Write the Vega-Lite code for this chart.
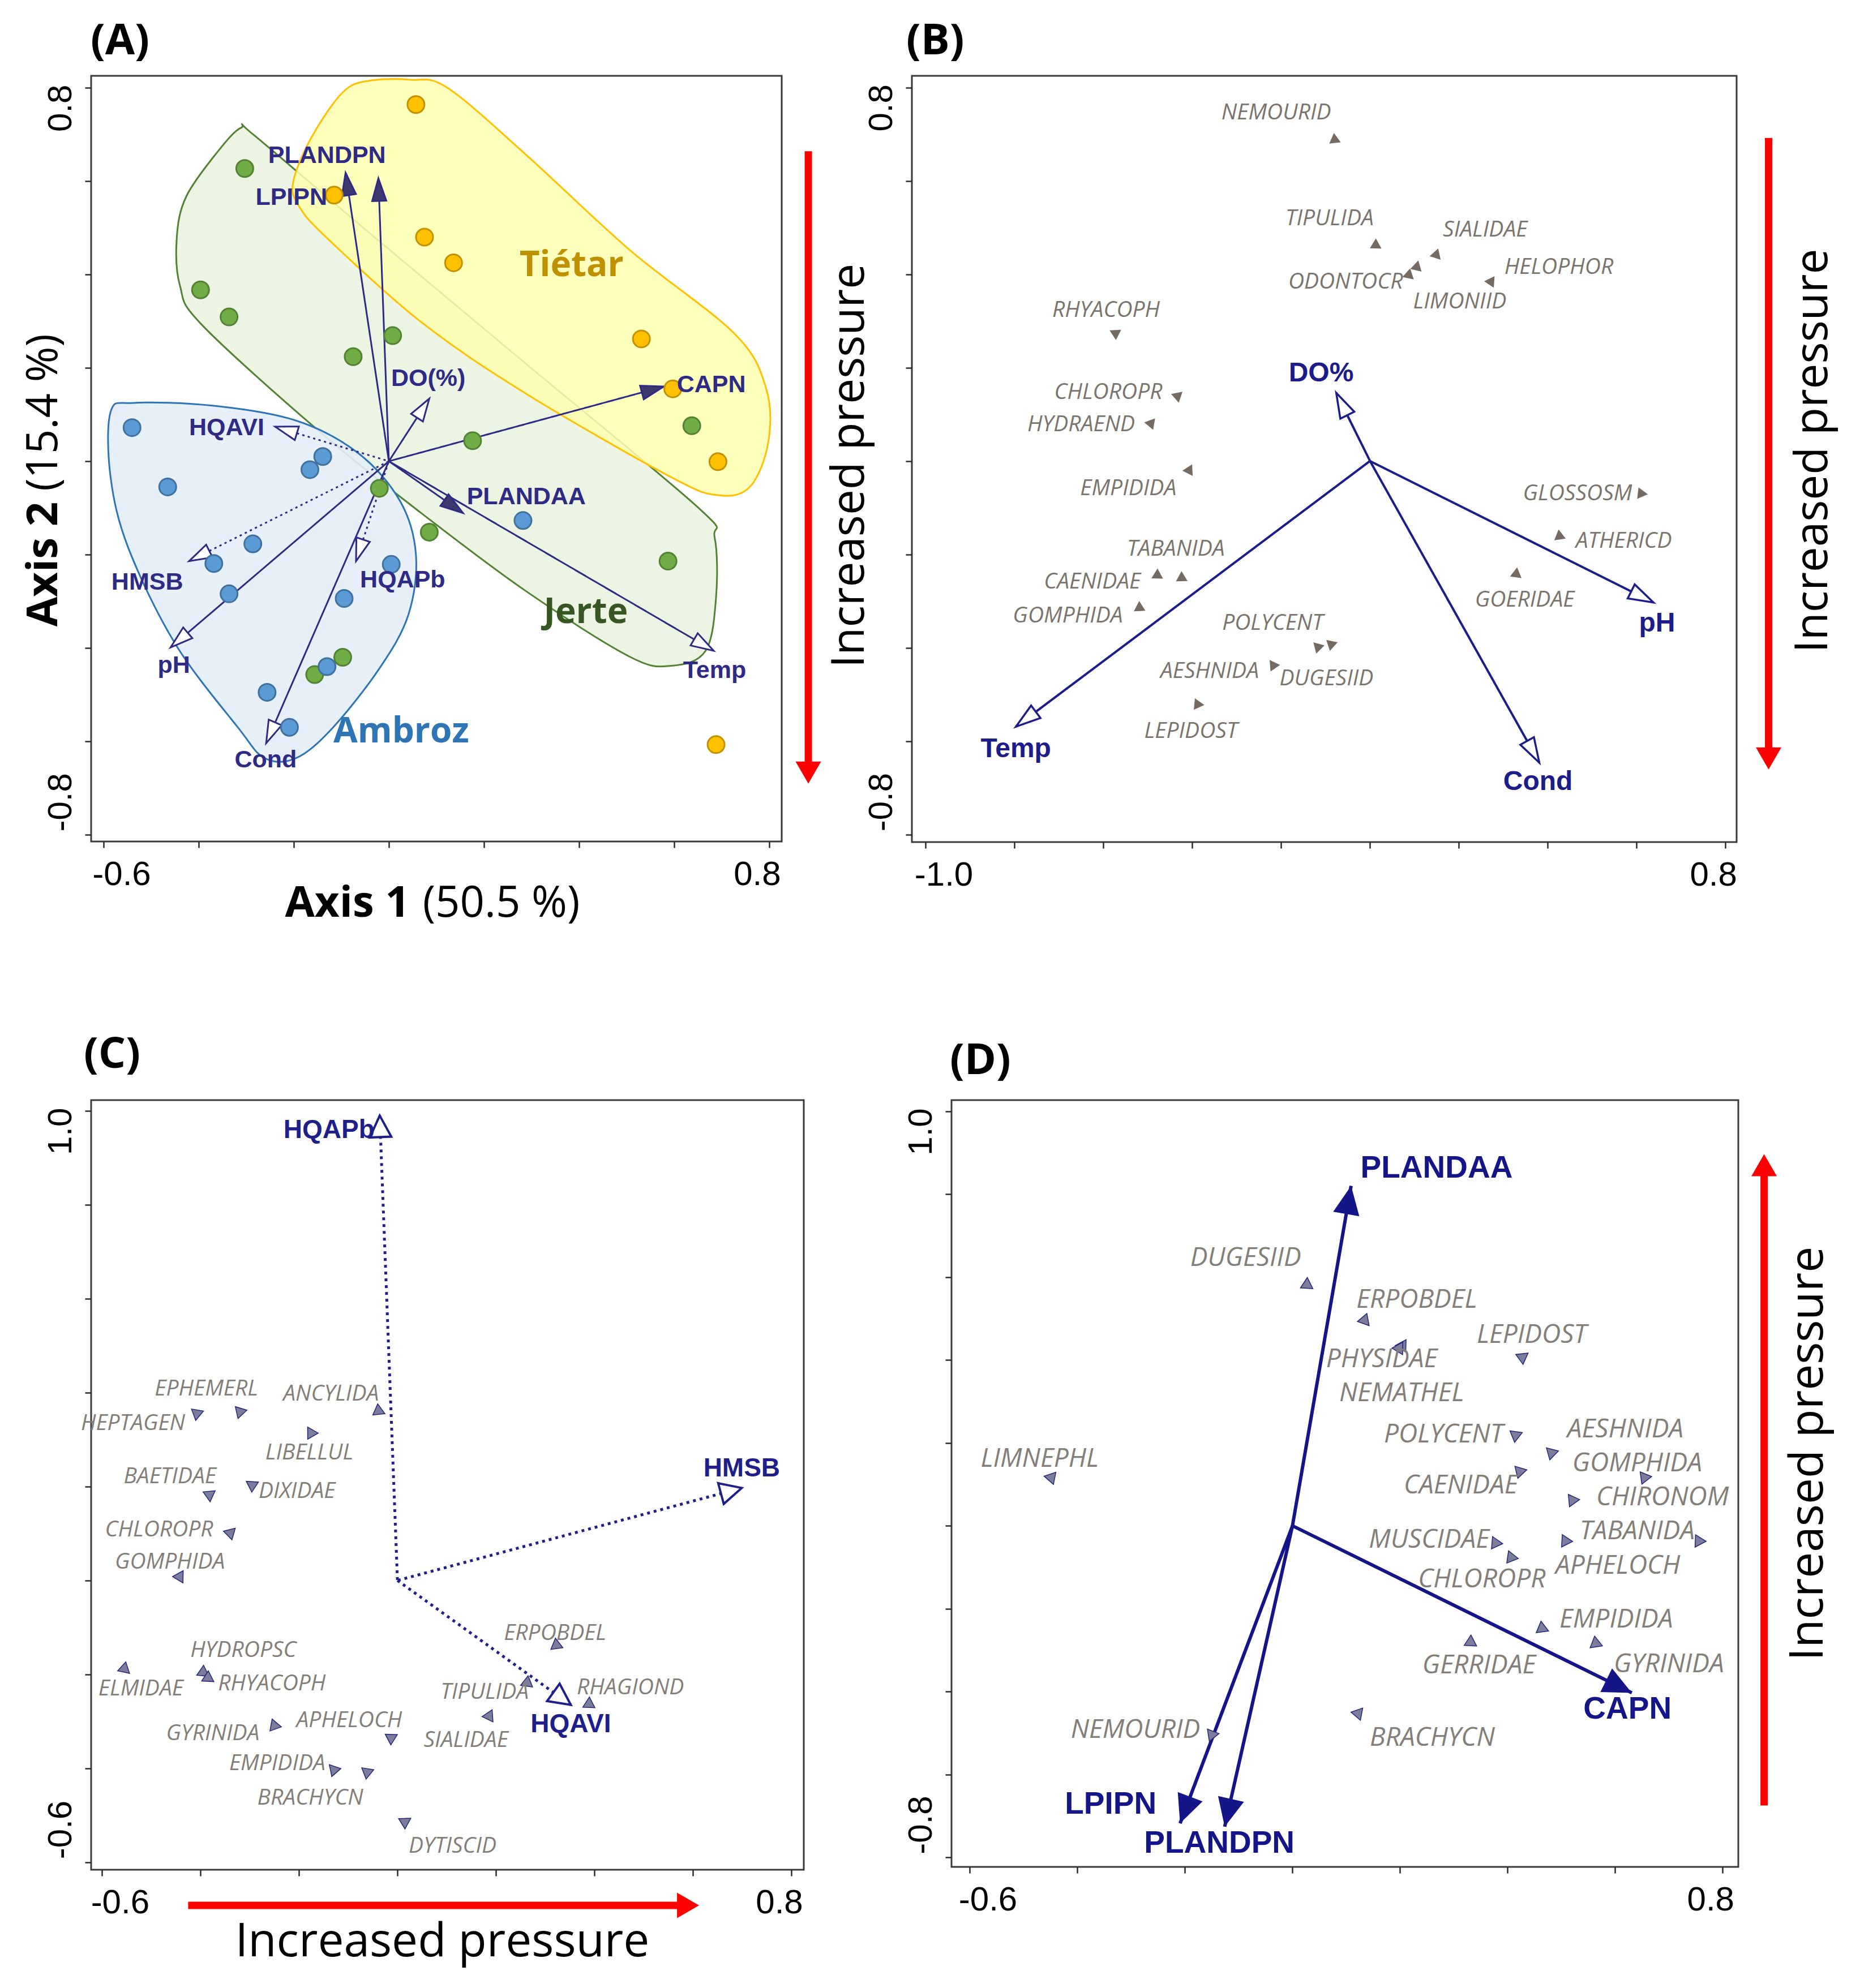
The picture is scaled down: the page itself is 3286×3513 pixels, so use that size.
{
  "$schema": "https://vega.github.io/schema/vega-lite/v6.json",
  "background": "white",
  "padding": {"left": 38, "top": 33, "right": 10, "bottom": 10},
  "config": {
    "view": {"stroke": "#3a3a3a", "strokeWidth": 3},
    "axis": {"grid": false, "domain": false, "ticks": true, "tickColor": "#2a2a2a", "tickSize": 11, "tickWidth": 2.5, "labelFont": "Liberation Sans", "labelFontSize": 60, "labelColor": "#000000", "labelOverlap": false},
    "axisX": {"labelPadding": 18, "labelFlush": 40, "labelFlushOffset": 20},
    "axisY": {"labelAngle": 270, "labelPadding": 25, "labelBaseline": "alphabetic", "labelOffset": -6},
    "title": {"anchor": "start", "frame": "group", "baseline": "alphabetic", "font": "Open Sans", "fontSize": 76, "fontWeight": "bold", "color": "#000000"}
  },
  "datasets": {
    "a_pts": [
      {"site": "Tiétar", "x": 0.057, "y": 0.764}, {"site": "Tiétar", "x": -0.115, "y": 0.570}, {"site": "Tiétar", "x": 0.075, "y": 0.480}, {"site": "Tiétar", "x": 0.136, "y": 0.425},
      {"site": "Tiétar", "x": 0.531, "y": 0.262}, {"site": "Tiétar", "x": 0.597, "y": 0.155}, {"site": "Tiétar", "x": 0.692, "y": -0.001}, {"site": "Tiétar", "x": 0.688, "y": -0.607},
      {"site": "Jerte", "x": -0.303, "y": 0.627}, {"site": "Jerte", "x": -0.396, "y": 0.367}, {"site": "Jerte", "x": -0.336, "y": 0.309}, {"site": "Jerte", "x": 0.008, "y": 0.269},
      {"site": "Jerte", "x": -0.075, "y": 0.224}, {"site": "Jerte", "x": 0.176, "y": 0.044}, {"site": "Jerte", "x": 0.637, "y": 0.076}, {"site": "Jerte", "x": -0.020, "y": -0.058},
      {"site": "Jerte", "x": 0.085, "y": -0.152}, {"site": "Jerte", "x": 0.587, "y": -0.214}, {"site": "Jerte", "x": -0.097, "y": -0.420}, {"site": "Jerte", "x": -0.156, "y": -0.457},
      {"site": "Ambroz", "x": -0.540, "y": 0.072}, {"site": "Ambroz", "x": -0.465, "y": -0.055}, {"site": "Ambroz", "x": -0.139, "y": 0.010}, {"site": "Ambroz", "x": -0.166, "y": -0.018},
      {"site": "Ambroz", "x": -0.286, "y": -0.177}, {"site": "Ambroz", "x": -0.368, "y": -0.219}, {"site": "Ambroz", "x": -0.336, "y": -0.284}, {"site": "Ambroz", "x": 0.005, "y": -0.221},
      {"site": "Ambroz", "x": -0.094, "y": -0.294}, {"site": "Ambroz", "x": 0.282, "y": -0.127}, {"site": "Ambroz", "x": -0.130, "y": -0.440}, {"site": "Ambroz", "x": -0.256, "y": -0.495},
      {"site": "Ambroz", "x": -0.209, "y": -0.570}
    ],
    "a_hull": [
      {"site": "Tiétar", "ord": 1, "x": -0.201, "y": 0.599}, {"site": "Tiétar", "ord": 2, "x": -0.162, "y": 0.695}, {"site": "Tiétar", "ord": 3, "x": -0.097, "y": 0.790},
      {"site": "Tiétar", "ord": 4, "x": -0.042, "y": 0.815}, {"site": "Tiétar", "ord": 5, "x": 0.046, "y": 0.817}, {"site": "Tiétar", "ord": 6, "x": 0.123, "y": 0.800},
      {"site": "Tiétar", "ord": 7, "x": 0.288, "y": 0.657}, {"site": "Tiétar", "ord": 8, "x": 0.507, "y": 0.452}, {"site": "Tiétar", "ord": 9, "x": 0.727, "y": 0.273},
      {"site": "Tiétar", "ord": 10, "x": 0.793, "y": 0.157}, {"site": "Tiétar", "ord": 11, "x": 0.798, "y": 0.042}, {"site": "Tiétar", "ord": 12, "x": 0.760, "y": -0.054},
      {"site": "Tiétar", "ord": 13, "x": 0.694, "y": -0.073}, {"site": "Tiétar", "ord": 14, "x": 0.595, "y": -0.035}, {"site": "Tiétar", "ord": 15, "x": 0.288, "y": 0.145},
      {"site": "Tiétar", "ord": 16, "x": 0.068, "y": 0.298}, {"site": "Tiétar", "ord": 17, "x": -0.130, "y": 0.478}, {"site": "Tiétar", "ord": 18, "x": -0.190, "y": 0.548},
      {"site": "Jerte", "ord": 1, "x": -0.311, "y": 0.714}, {"site": "Jerte", "ord": 2, "x": -0.283, "y": 0.698}, {"site": "Jerte", "ord": 3, "x": -0.042, "y": 0.490},
      {"site": "Jerte", "ord": 4, "x": 0.288, "y": 0.209}, {"site": "Jerte", "ord": 5, "x": 0.650, "y": -0.099}, {"site": "Jerte", "ord": 6, "x": 0.685, "y": -0.163},
      {"site": "Jerte", "ord": 7, "x": 0.688, "y": -0.291}, {"site": "Jerte", "ord": 8, "x": 0.666, "y": -0.406}, {"site": "Jerte", "ord": 9, "x": 0.595, "y": -0.438},
      {"site": "Jerte", "ord": 10, "x": 0.507, "y": -0.419}, {"site": "Jerte", "ord": 11, "x": 0.288, "y": -0.278}, {"site": "Jerte", "ord": 12, "x": 0.068, "y": -0.111},
      {"site": "Jerte", "ord": 13, "x": -0.151, "y": 0.068}, {"site": "Jerte", "ord": 14, "x": -0.393, "y": 0.292}, {"site": "Jerte", "ord": 15, "x": -0.439, "y": 0.375},
      {"site": "Jerte", "ord": 16, "x": -0.446, "y": 0.478}, {"site": "Jerte", "ord": 17, "x": -0.426, "y": 0.567}, {"site": "Jerte", "ord": 18, "x": -0.360, "y": 0.663},
      {"site": "Ambroz", "ord": 1, "x": -0.585, "y": 0.106}, {"site": "Ambroz", "ord": 2, "x": -0.536, "y": 0.125}, {"site": "Ambroz", "ord": 3, "x": -0.371, "y": 0.119},
      {"site": "Ambroz", "ord": 4, "x": -0.195, "y": 0.087}, {"site": "Ambroz", "ord": 5, "x": -0.064, "y": 0.017}, {"site": "Ambroz", "ord": 6, "x": 0.024, "y": -0.086},
      {"site": "Ambroz", "ord": 7, "x": 0.057, "y": -0.201}, {"site": "Ambroz", "ord": 8, "x": 0.041, "y": -0.329}, {"site": "Ambroz", "ord": 9, "x": -0.020, "y": -0.444},
      {"site": "Ambroz", "ord": 10, "x": -0.119, "y": -0.572}, {"site": "Ambroz", "ord": 11, "x": -0.195, "y": -0.636}, {"site": "Ambroz", "ord": 12, "x": -0.261, "y": -0.636},
      {"site": "Ambroz", "ord": 13, "x": -0.316, "y": -0.572}, {"site": "Ambroz", "ord": 14, "x": -0.448, "y": -0.393}, {"site": "Ambroz", "ord": 15, "x": -0.547, "y": -0.188},
      {"site": "Ambroz", "ord": 16, "x": -0.585, "y": -0.035}
    ],
    "a_sites": [
      {"site": "Tiétar", "x": 0.384, "y": 0.420}, {"site": "Jerte", "x": 0.414, "y": -0.323}, {"site": "Ambroz", "x": 0.026, "y": -0.579}
    ],
    "a_arrows": [
      {"var": "PLANDPN", "type": "Land use", "x": -0.022, "y": 0.606, "lx": -0.130, "ly": 0.655},
      {"var": "LPIPN", "type": "Land use", "x": -0.091, "y": 0.618, "lx": -0.205, "ly": 0.565},
      {"var": "CAPN", "type": "Land use", "x": 0.578, "y": 0.160, "lx": 0.678, "ly": 0.164},
      {"var": "PLANDAA", "type": "Land use", "x": 0.156, "y": -0.111, "lx": 0.289, "ly": -0.076},
      {"var": "Temp", "type": "Physico-chemical", "x": 0.683, "y": -0.406, "lx": 0.685, "ly": -0.448},
      {"var": "DO(%)", "type": "Physico-chemical", "x": 0.085, "y": 0.134, "lx": 0.083, "ly": 0.177},
      {"var": "pH", "type": "Physico-chemical", "x": -0.459, "y": -0.399, "lx": -0.452, "ly": -0.438},
      {"var": "Cond", "type": "Physico-chemical", "x": -0.258, "y": -0.604, "lx": -0.259, "ly": -0.640},
      {"var": "HQAVI", "type": "Hydromorphological", "x": -0.239, "y": 0.074, "lx": -0.341, "ly": 0.072},
      {"var": "HMSB", "type": "Hydromorphological", "x": -0.420, "y": -0.214, "lx": -0.508, "ly": -0.259},
      {"var": "HQAPb", "type": "Hydromorphological", "x": -0.069, "y": -0.214, "lx": 0.029, "ly": -0.255}
    ],
    "b_arrows": [
      {"var": "DO%", "type": "Physico-chemical", "x": -0.076, "y": 0.146, "lx": -0.110, "ly": 0.188},
      {"var": "pH", "type": "Physico-chemical", "x": 0.638, "y": -0.303, "lx": 0.646, "ly": -0.348},
      {"var": "Temp", "type": "Physico-chemical", "x": -0.797, "y": -0.569, "lx": -0.797, "ly": -0.617},
      {"var": "Cond", "type": "Physico-chemical", "x": 0.381, "y": -0.646, "lx": 0.378, "ly": -0.688}
    ],
    "b_sp": [
      {"taxon": "NEMOURID", "x": -0.080, "y": 0.692, "lx": -0.211, "ly": 0.746},
      {"taxon": "TIPULIDA", "x": 0.013, "y": 0.466, "lx": -0.091, "ly": 0.519},
      {"taxon": "ODONTOCR", "x": 0.088, "y": 0.402, "lx": -0.055, "ly": 0.384},
      {"taxon": "LIMONIID", "x": 0.106, "y": 0.419, "lx": 0.202, "ly": 0.342},
      {"taxon": "SIALIDAE", "x": 0.150, "y": 0.445, "lx": 0.259, "ly": 0.495},
      {"taxon": "HELOPHOR", "x": 0.274, "y": 0.387, "lx": 0.425, "ly": 0.415},
      {"taxon": "RHYACOPH", "x": -0.576, "y": 0.275, "lx": -0.594, "ly": 0.323},
      {"taxon": "CHLOROPR", "x": -0.437, "y": 0.140, "lx": -0.589, "ly": 0.148},
      {"taxon": "HYDRAEND", "x": -0.497, "y": 0.081, "lx": -0.650, "ly": 0.079},
      {"taxon": "EMPIDIDA", "x": -0.411, "y": -0.020, "lx": -0.544, "ly": -0.058},
      {"taxon": "GLOSSOSM", "x": 0.614, "y": -0.070, "lx": 0.467, "ly": -0.070},
      {"taxon": "ATHERICD", "x": 0.430, "y": -0.162, "lx": 0.571, "ly": -0.171},
      {"taxon": "GOERIDAE", "x": 0.332, "y": -0.244, "lx": 0.348, "ly": -0.297},
      {"taxon": "TABANIDA", "x": -0.427, "y": -0.252, "lx": -0.437, "ly": -0.188},
      {"taxon": "CAENIDAE", "x": -0.482, "y": -0.246, "lx": -0.625, "ly": -0.259},
      {"taxon": "GOMPHIDA", "x": -0.522, "y": -0.316, "lx": -0.680, "ly": -0.331},
      {"taxon": "POLYCENT", "x": -0.118, "y": -0.402, "lx": -0.219, "ly": -0.347},
      {"taxon": "DUGESIID", "x": -0.088, "y": -0.396, "lx": -0.098, "ly": -0.466},
      {"taxon": "AESHNIDA", "x": -0.219, "y": -0.441, "lx": -0.361, "ly": -0.450},
      {"taxon": "LEPIDOST", "x": -0.390, "y": -0.524, "lx": -0.403, "ly": -0.579}
    ],
    "c_arrows": [
      {"var": "HQAPb", "type": "Hydromorphological", "x": -0.036, "y": 0.990, "lx": -0.139, "ly": 0.959},
      {"var": "HMSB", "type": "Hydromorphological", "x": 0.699, "y": 0.197, "lx": 0.699, "ly": 0.238},
      {"var": "HQAVI", "type": "Hydromorphological", "x": 0.352, "y": -0.265, "lx": 0.352, "ly": -0.306}
    ],
    "c_sp": [
      {"taxon": "EPHEMERL", "x": -0.322, "y": 0.362, "lx": -0.388, "ly": 0.408},
      {"taxon": "HEPTAGEN", "x": -0.410, "y": 0.358, "lx": -0.537, "ly": 0.335},
      {"taxon": "ANCYLIDA", "x": -0.039, "y": 0.365, "lx": -0.135, "ly": 0.397},
      {"taxon": "LIBELLUL", "x": -0.177, "y": 0.317, "lx": -0.179, "ly": 0.272},
      {"taxon": "BAETIDAE", "x": -0.385, "y": 0.184, "lx": -0.462, "ly": 0.222},
      {"taxon": "DIXIDAE", "x": -0.298, "y": 0.205, "lx": -0.204, "ly": 0.190},
      {"taxon": "CHLOROPR", "x": -0.343, "y": 0.102, "lx": -0.484, "ly": 0.108},
      {"taxon": "GOMPHIDA", "x": -0.446, "y": 0.008, "lx": -0.462, "ly": 0.040},
      {"taxon": "ERPOBDEL", "x": 0.326, "y": -0.139, "lx": 0.320, "ly": -0.112},
      {"taxon": "HYDROPSC", "x": -0.398, "y": -0.197, "lx": -0.313, "ly": -0.148},
      {"taxon": "ELMIDAE", "x": -0.558, "y": -0.189, "lx": -0.521, "ly": -0.230},
      {"taxon": "RHYACOPH", "x": -0.388, "y": -0.209, "lx": -0.255, "ly": -0.220},
      {"taxon": "TIPULIDA", "x": 0.266, "y": -0.220, "lx": 0.177, "ly": -0.237},
      {"taxon": "RHAGIOND", "x": 0.392, "y": -0.265, "lx": 0.473, "ly": -0.228},
      {"taxon": "SIALIDAE", "x": 0.188, "y": -0.292, "lx": 0.139, "ly": -0.340},
      {"taxon": "GYRINIDA", "x": -0.252, "y": -0.312, "lx": -0.375, "ly": -0.325},
      {"taxon": "APHELOCH", "x": -0.013, "y": -0.339, "lx": -0.098, "ly": -0.298},
      {"taxon": "EMPIDIDA", "x": -0.130, "y": -0.407, "lx": -0.244, "ly": -0.390},
      {"taxon": "BRACHYCN", "x": -0.062, "y": -0.412, "lx": -0.177, "ly": -0.463},
      {"taxon": "DYTISCID", "x": 0.015, "y": -0.518, "lx": 0.112, "ly": -0.565}
    ],
    "d_arrows": [
      {"var": "PLANDAA", "type": "Land use", "x": 0.109, "y": 0.820, "lx": 0.268, "ly": 0.863},
      {"var": "CAPN", "type": "Land use", "x": 0.631, "y": -0.403, "lx": 0.623, "ly": -0.442},
      {"var": "LPIPN", "type": "Land use", "x": -0.209, "y": -0.718, "lx": -0.338, "ly": -0.672},
      {"var": "PLANDPN", "type": "Land use", "x": -0.126, "y": -0.726, "lx": -0.136, "ly": -0.765}
    ],
    "d_sp": [
      {"taxon": "DUGESIID", "x": 0.027, "y": 0.586, "lx": -0.087, "ly": 0.646},
      {"taxon": "ERPOBDEL", "x": 0.135, "y": 0.500, "lx": 0.231, "ly": 0.545},
      {"taxon": "PHYSIDAE", "x": 0.206, "y": 0.438, "lx": 0.166, "ly": 0.402},
      {"taxon": "NEMATHEL", "x": 0.200, "y": 0.432, "lx": 0.203, "ly": 0.320},
      {"taxon": "LEPIDOST", "x": 0.430, "y": 0.409, "lx": 0.445, "ly": 0.460},
      {"taxon": "LIMNEPHL", "x": -0.452, "y": 0.117, "lx": -0.470, "ly": 0.162},
      {"taxon": "POLYCENT", "x": 0.418, "y": 0.220, "lx": 0.281, "ly": 0.220},
      {"taxon": "AESHNIDA", "x": 0.485, "y": 0.177, "lx": 0.619, "ly": 0.232},
      {"taxon": "GOMPHIDA", "x": 0.658, "y": 0.117, "lx": 0.641, "ly": 0.150},
      {"taxon": "CAENIDAE", "x": 0.426, "y": 0.132, "lx": 0.313, "ly": 0.097},
      {"taxon": "CHIRONOM", "x": 0.524, "y": 0.062, "lx": 0.688, "ly": 0.068},
      {"taxon": "TABANIDA", "x": 0.759, "y": -0.037, "lx": 0.641, "ly": -0.014},
      {"taxon": "MUSCIDAE", "x": 0.381, "y": -0.042, "lx": 0.254, "ly": -0.034},
      {"taxon": "APHELOCH", "x": 0.511, "y": -0.037, "lx": 0.605, "ly": -0.096},
      {"taxon": "CHLOROPR", "x": 0.410, "y": -0.077, "lx": 0.352, "ly": -0.129},
      {"taxon": "EMPIDIDA", "x": 0.467, "y": -0.249, "lx": 0.602, "ly": -0.226},
      {"taxon": "GYRINIDA", "x": 0.567, "y": -0.285, "lx": 0.700, "ly": -0.334},
      {"taxon": "GERRIDAE", "x": 0.334, "y": -0.283, "lx": 0.347, "ly": -0.337},
      {"taxon": "BRACHYCN", "x": 0.123, "y": -0.457, "lx": 0.260, "ly": -0.512},
      {"taxon": "NEMOURID", "x": -0.151, "y": -0.508, "lx": -0.292, "ly": -0.492}
    ]
  },
  "vconcat": [
    {
      "hconcat": [
        {
          "width": 1220, "height": 1353,
          "title": {"text": "(A)", "offset": 22, "dx": -1},
          "resolve": {"scale": {"color": "independent", "fill": "independent", "stroke": "independent", "strokeDash": "independent"}},
          "layer": [
            {
              "data": {"name": "a_hull"}, "transform": [{"filter": "datum.site == 'Jerte'"}],
              "mark": {"type": "line", "interpolate": "cardinal-closed", "fill": "#ebf3e3", "fillOpacity": 0.95, "stroke": "#548235", "strokeWidth": 3},
              "encoding": {
                "x": {"field": "x", "type": "quantitative", "title": null, "scale": {"domain": [-0.626, 0.826], "nice": false, "zero": false},
                      "axis": {"values": [-0.6, -0.4, -0.2, 0, 0.2, 0.4, 0.6, 0.8], "labelExpr": "abs(datum.value + 0.6) < 0.01 ? '-0.6' : abs(datum.value - 0.8) < 0.01 ? '0.8' : ''"}},
                "y": {"field": "y", "type": "quantitative", "title": null, "scale": {"domain": [-0.8145, 0.8255], "nice": false, "zero": false},
                      "axis": {"values": [-0.8, -0.6, -0.4, -0.2, 0, 0.2, 0.4, 0.6, 0.8], "labelExpr": "abs(datum.value + 0.8) < 0.01 ? '-0.8' : abs(datum.value - 0.8) < 0.01 ? '0.8' : ''",
                               "labelAlign": {"condition": {"test": "datum.value > 0", "value": "right"}, "value": "left"}}},
                "order": {"field": "ord", "type": "quantitative"}
              }
            },
            {
              "data": {"name": "a_hull"}, "transform": [{"filter": "datum.site == 'Tiétar'"}],
              "mark": {"type": "line", "interpolate": "cardinal-closed", "fill": "#ffffb0", "fillOpacity": 0.85, "stroke": "#ffc000", "strokeWidth": 3},
              "encoding": {"x": {"field": "x", "type": "quantitative", "title": null}, "y": {"field": "y", "type": "quantitative", "title": null}, "order": {"field": "ord", "type": "quantitative"}}
            },
            {
              "data": {"name": "a_hull"}, "transform": [{"filter": "datum.site == 'Ambroz'"}],
              "mark": {"type": "line", "interpolate": "cardinal-closed", "fill": "#e4eef8", "fillOpacity": 0.9, "stroke": "#2e75b6", "strokeWidth": 3},
              "encoding": {"x": {"field": "x", "type": "quantitative", "title": null}, "y": {"field": "y", "type": "quantitative", "title": null}, "order": {"field": "ord", "type": "quantitative"}}
            },
            {"mark": {"type": "rule", "color": "#a8a8a8", "strokeWidth": 2}, "encoding": {"x": {"datum": 0, "type": "quantitative"}}},
            {"mark": {"type": "rule", "color": "#a8a8a8", "strokeWidth": 2}, "encoding": {"y": {"datum": 0, "type": "quantitative"}}},
            {
              "data": {"name": "a_arrows"},
              "mark": {"type": "rule", "color": "#2e2a85", "strokeWidth": 3},
              "encoding": {
                "x": {"field": "x", "type": "quantitative", "title": null}, "y": {"field": "y", "type": "quantitative", "title": null},
                "x2": {"datum": 0}, "y2": {"datum": 0},
                "strokeDash": {"field": "type", "type": "nominal", "scale": {"domain": ["Physico-chemical", "Hydromorphological", "Land use"], "range": [[1, 0], [4, 6], [1, 0]]}, "legend": null}
              }
            },
            {
              "data": {"name": "a_arrows"},
              "transform": [{"calculate": "90 - atan2(datum.y * 825, datum.x * 840) * 180 / PI", "as": "heading"}],
              "mark": {"type": "point", "shape": "M0,0L-0.5,1.6L0.5,1.6Z", "size": 2500, "filled": true, "stroke": "#2e2a85", "strokeWidth": 3, "opacity": 1},
              "encoding": {
                "x": {"field": "x", "type": "quantitative", "title": null}, "y": {"field": "y", "type": "quantitative", "title": null},
                "angle": {"field": "heading", "type": "quantitative", "scale": null},
                "fill": {"field": "type", "type": "nominal", "scale": {"domain": ["Physico-chemical", "Hydromorphological", "Land use"], "range": ["#ffffff", "#ffffff", "#3d3a6e"]}, "legend": null}
              }
            },
            {
              "data": {"name": "a_pts"},
              "mark": {"type": "circle", "size": 900, "opacity": 1, "strokeWidth": 3},
              "encoding": {
                "x": {"field": "x", "type": "quantitative", "title": null}, "y": {"field": "y", "type": "quantitative", "title": null},
                "color": {"field": "site", "type": "nominal", "scale": {"domain": ["Tiétar", "Jerte", "Ambroz"], "range": ["#ffc000", "#70ad47", "#5b9bd5"]}, "legend": null},
                "stroke": {"field": "site", "type": "nominal", "scale": {"domain": ["Tiétar", "Jerte", "Ambroz"], "range": ["#c29100", "#548235", "#41719c"]}, "legend": null}
              }
            },
            {
              "data": {"name": "a_arrows"},
              "mark": {"type": "text", "font": "Liberation Sans", "fontWeight": "bold", "fontSize": 43, "color": "#2e2a85"},
              "encoding": {"x": {"field": "lx", "type": "quantitative", "title": null}, "y": {"field": "ly", "type": "quantitative", "title": null}, "text": {"field": "var"}}
            },
            {
              "data": {"name": "a_sites"},
              "mark": {"type": "text", "font": "Open Sans", "fontWeight": "bold", "fontSize": 62},
              "encoding": {
                "x": {"field": "x", "type": "quantitative", "title": null}, "y": {"field": "y", "type": "quantitative", "title": null}, "text": {"field": "site"},
                "color": {"field": "site", "type": "nominal", "scale": {"domain": ["Tiétar", "Jerte", "Ambroz"], "range": ["#bf9000", "#375623", "#2e75b6"]}, "legend": null}
              }
            },
            {
              "data": {"values": [{"label": "Axis 1", "x": 0.044, "y": -0.976}]},
              "mark": {"type": "text", "font": "Open Sans", "fontWeight": "bold", "fontSize": 76, "align": "right", "baseline": "alphabetic", "color": "#000000"},
              "encoding": {"x": {"field": "x", "type": "quantitative", "title": null}, "y": {"field": "y", "type": "quantitative", "title": null}, "text": {"field": "label"}}
            },
            {
              "data": {"values": [{"label": "(50.5 %)", "x": 0.071, "y": -0.976}]},
              "mark": {"type": "text", "font": "Open Sans", "fontSize": 76, "align": "left", "baseline": "alphabetic", "color": "#000000"},
              "encoding": {"x": {"field": "x", "type": "quantitative", "title": null}, "y": {"field": "y", "type": "quantitative", "title": null}, "text": {"field": "label"}}
            },
            {
              "data": {"values": [{"label": "Axis 2", "x": -0.698, "y": -0.087}]},
              "mark": {"type": "text", "font": "Open Sans", "fontWeight": "bold", "fontSize": 76, "align": "right", "baseline": "alphabetic", "angle": 270, "color": "#000000"},
              "encoding": {"x": {"field": "x", "type": "quantitative", "title": null}, "y": {"field": "y", "type": "quantitative", "title": null}, "text": {"field": "label"}}
            },
            {
              "data": {"values": [{"label": "(15.4 %)", "x": -0.698, "y": -0.064}]},
              "mark": {"type": "text", "font": "Open Sans", "fontSize": 76, "align": "left", "baseline": "alphabetic", "angle": 270, "color": "#000000"},
              "encoding": {"x": {"field": "x", "type": "quantitative", "title": null}, "y": {"field": "y", "type": "quantitative", "title": null}, "text": {"field": "label"}}
            },
            {
              "data": {"values": [{"x": 0.882, "y": 0.664, "x2": 0.882, "y2": -0.667}]},
              "mark": {"type": "rule", "color": "#ff0000", "strokeWidth": 13},
              "encoding": {"x": {"field": "x", "type": "quantitative", "title": null}, "y": {"field": "y", "type": "quantitative", "title": null}, "y2": {"field": "y2"}}
            },
            {
              "data": {"values": [{"x": 0.882, "y": 0.664, "x2": 0.882, "y2": -0.667}]},
              "mark": {"type": "point", "shape": "triangle-down", "size": 2025, "filled": true, "color": "#ff0000", "opacity": 1},
              "encoding": {"x": {"field": "x2", "type": "quantitative", "title": null}, "y": {"field": "y2", "type": "quantitative", "title": null}}
            }
          ]
        },
        {
          "width": 1457, "height": 1354,
          "title": {"text": "(B)", "offset": 22, "dx": -10},
          "resolve": {"scale": {"color": "independent", "fill": "independent", "stroke": "independent", "strokeDash": "independent"}},
          "layer": [
            {"mark": {"type": "rule", "color": "#c4c4c4", "strokeWidth": 2}, "encoding": {"x": {"datum": 0, "type": "quantitative"}}},
            {"mark": {"type": "rule", "color": "#c4c4c4", "strokeWidth": 2}, "encoding": {"y": {"datum": 0, "type": "quantitative"}}},
            {
              "data": {"name": "b_arrows"},
              "mark": {"type": "rule", "color": "#1c1c8a", "strokeWidth": 4},
              "encoding": {
                "x": {"field": "x", "type": "quantitative", "title": null, "scale": {"domain": [-1.031, 0.825], "nice": false, "zero": false},
                      "axis": {"values": [-1.0, -0.8, -0.6, -0.4, -0.2, 0, 0.2, 0.4, 0.6, 0.8], "labelExpr": "abs(datum.value + 1.0) < 0.01 ? '-1.0' : abs(datum.value - 0.8) < 0.01 ? '0.8' : ''"}},
                "y": {"field": "y", "type": "quantitative", "title": null, "scale": {"domain": [-0.816, 0.825], "nice": false, "zero": false},
                      "axis": {"values": [-0.8, -0.6, -0.4, -0.2, 0, 0.2, 0.4, 0.6, 0.8], "labelExpr": "abs(datum.value + 0.8) < 0.01 ? '-0.8' : abs(datum.value - 0.8) < 0.01 ? '0.8' : ''",
                               "labelAlign": {"condition": {"test": "datum.value > 0", "value": "right"}, "value": "left"}}},
                "x2": {"datum": 0}, "y2": {"datum": 0}
              }
            },
            {
              "data": {"name": "b_arrows"},
              "transform": [{"calculate": "90 - atan2(datum.y * 825, datum.x * 785) * 180 / PI", "as": "heading"}],
              "mark": {"type": "point", "shape": "M0,0L-0.5,1.6L0.5,1.6Z", "size": 3025, "filled": true, "fill": "#ffffff", "stroke": "#1c1c8a", "strokeWidth": 3.5, "opacity": 1},
              "encoding": {
                "x": {"field": "x", "type": "quantitative", "title": null}, "y": {"field": "y", "type": "quantitative", "title": null},
                "angle": {"field": "heading", "type": "quantitative", "scale": null}
              }
            },
            {
              "data": {"name": "b_sp"},
              "transform": [{"calculate": "90 - atan2(datum.y * 825, datum.x * 785) * 180 / PI", "as": "heading"}],
              "mark": {"type": "point", "shape": "triangle-up", "size": 420, "filled": true, "color": "#756b62", "opacity": 1},
              "encoding": {
                "x": {"field": "x", "type": "quantitative", "title": null}, "y": {"field": "y", "type": "quantitative", "title": null},
                "angle": {"field": "heading", "type": "quantitative", "scale": null}
              }
            },
            {
              "data": {"name": "b_sp"},
              "mark": {"type": "text", "font": "Open Sans", "fontStyle": "italic", "fontSize": 39, "color": "#7b746c"},
              "encoding": {"x": {"field": "lx", "type": "quantitative", "title": null}, "y": {"field": "ly", "type": "quantitative", "title": null}, "text": {"field": "taxon"}}
            },
            {
              "data": {"name": "b_arrows"},
              "mark": {"type": "text", "font": "Liberation Sans", "fontWeight": "bold", "fontSize": 48, "color": "#1c1c8a"},
              "encoding": {"x": {"field": "lx", "type": "quantitative", "title": null}, "y": {"field": "ly", "type": "quantitative", "title": null}, "text": {"field": "var"}}
            },
            {
              "data": {"values": [{"label": "Increased pressure", "x": -1.139, "y": -0.010}, {"label": "Increased pressure", "x": 1.029, "y": 0.022}]},
              "mark": {"type": "text", "font": "Open Sans", "fontSize": 80, "angle": 270, "align": "center", "baseline": "alphabetic", "color": "#000000"},
              "encoding": {"x": {"field": "x", "type": "quantitative", "title": null}, "y": {"field": "y", "type": "quantitative", "title": null}, "text": {"field": "label"}}
            },
            {
              "data": {"values": [{"x": 0.897, "y": 0.692, "x2": 0.897, "y2": -0.637}]},
              "mark": {"type": "rule", "color": "#ff0000", "strokeWidth": 13},
              "encoding": {"x": {"field": "x", "type": "quantitative", "title": null}, "y": {"field": "y", "type": "quantitative", "title": null}, "y2": {"field": "y2"}}
            },
            {
              "data": {"values": [{"x": 0.897, "y": 0.692, "x2": 0.897, "y2": -0.637}]},
              "mark": {"type": "point", "shape": "triangle-down", "size": 2025, "filled": true, "color": "#ff0000", "opacity": 1},
              "encoding": {"x": {"field": "x2", "type": "quantitative", "title": null}, "y": {"field": "y2", "type": "quantitative", "title": null}}
            }
          ]
        }
      ],
      "spacing": 230, "bounds": "flush", "align": "none"
    },
    {
      "hconcat": [
        {
          "width": 1259, "height": 1360,
          "title": {"text": "(C)", "offset": 41, "dx": -13},
          "resolve": {"scale": {"color": "independent", "fill": "independent", "stroke": "independent", "strokeDash": "independent"}},
          "layer": [
            {"mark": {"type": "rule", "color": "#bdbdbd", "strokeWidth": 2}, "encoding": {"x": {"datum": 0, "type": "quantitative"}}},
            {"mark": {"type": "rule", "color": "#9e9e9e", "strokeWidth": 2}, "encoding": {"y": {"datum": 0, "type": "quantitative"}}},
            {
              "data": {"name": "c_arrows"},
              "mark": {"type": "rule", "color": "#1f1f8c", "strokeWidth": 5, "strokeDash": [5, 7]},
              "encoding": {
                "x": {"field": "x", "type": "quantitative", "title": null, "scale": {"domain": [-0.622, 0.825], "nice": false, "zero": false},
                      "axis": {"values": [-0.6, -0.4, -0.2, 0, 0.2, 0.4, 0.6, 0.8], "labelExpr": "abs(datum.value + 0.6) < 0.01 ? '-0.6' : abs(datum.value - 0.8) < 0.01 ? '0.8' : ''"}},
                "y": {"field": "y", "type": "quantitative", "title": null, "scale": {"domain": [-0.616, 1.023], "nice": false, "zero": false},
                      "axis": {"values": [-0.6, -0.4, -0.2, 0, 0.2, 0.4, 0.6, 0.8, 1.0], "labelExpr": "abs(datum.value + 0.6) < 0.01 ? '-0.6' : abs(datum.value - 1.0) < 0.01 ? '1.0' : ''",
                               "labelAlign": {"condition": {"test": "datum.value > 0", "value": "right"}, "value": "left"}}},
                "x2": {"datum": 0}, "y2": {"datum": 0}
              }
            },
            {
              "data": {"name": "c_arrows"},
              "transform": [{"calculate": "90 - atan2(datum.y * 830, datum.x * 870) * 180 / PI", "as": "heading"}],
              "mark": {"type": "point", "shape": "M0,0L-0.55,1.1L0.55,1.1Z", "size": 4761, "filled": true, "fill": "#ffffff", "stroke": "#1f1f8c", "strokeWidth": 4, "opacity": 1},
              "encoding": {
                "x": {"field": "x", "type": "quantitative", "title": null}, "y": {"field": "y", "type": "quantitative", "title": null},
                "angle": {"field": "heading", "type": "quantitative", "scale": null}
              }
            },
            {
              "data": {"name": "c_sp"},
              "transform": [{"calculate": "90 - atan2(datum.y * 830, datum.x * 870) * 180 / PI", "as": "heading"}],
              "mark": {"type": "point", "shape": "triangle-up", "size": 460, "filled": true, "fill": "#7c7c9c", "stroke": "#25257a", "strokeWidth": 1.5, "opacity": 1},
              "encoding": {
                "x": {"field": "x", "type": "quantitative", "title": null}, "y": {"field": "y", "type": "quantitative", "title": null},
                "angle": {"field": "heading", "type": "quantitative", "scale": null}
              }
            },
            {
              "data": {"name": "c_sp"},
              "mark": {"type": "text", "font": "Open Sans", "fontStyle": "italic", "fontSize": 39, "color": "#847e78"},
              "encoding": {"x": {"field": "lx", "type": "quantitative", "title": null}, "y": {"field": "ly", "type": "quantitative", "title": null}, "text": {"field": "taxon"}}
            },
            {
              "data": {"name": "c_arrows"},
              "mark": {"type": "text", "font": "Liberation Sans", "fontWeight": "bold", "fontSize": 46, "color": "#1f1f8c"},
              "encoding": {"x": {"field": "lx", "type": "quantitative", "title": null}, "y": {"field": "ly", "type": "quantitative", "title": null}, "text": {"field": "var"}}
            },
            {
              "data": {"values": [{"label": "Increased pressure", "x": 0.091, "y": -0.80}]},
              "mark": {"type": "text", "font": "Open Sans", "fontSize": 82, "align": "center", "baseline": "alphabetic", "color": "#000000"},
              "encoding": {"x": {"field": "x", "type": "quantitative", "title": null}, "y": {"field": "y", "type": "quantitative", "title": null}, "text": {"field": "label"}}
            },
            {
              "data": {"values": [{"x": -0.425, "y": -0.692, "x2": 0.590, "y2": -0.692}]},
              "mark": {"type": "rule", "color": "#ff0000", "strokeWidth": 13},
              "encoding": {"x": {"field": "x", "type": "quantitative", "title": null}, "x2": {"field": "x2"}, "y": {"field": "y", "type": "quantitative", "title": null}}
            },
            {
              "data": {"values": [{"x": -0.425, "y": -0.692, "x2": 0.590, "y2": -0.692}]},
              "mark": {"type": "point", "shape": "triangle-right", "size": 2025, "filled": true, "color": "#ff0000", "opacity": 1},
              "encoding": {"x": {"field": "x2", "type": "quantitative", "title": null}, "y": {"field": "y2", "type": "quantitative", "title": null}}
            }
          ]
        },
        {
          "width": 1390, "height": 1355,
          "title": {"text": "(D)", "offset": 30, "dx": -3},
          "resolve": {"scale": {"color": "independent", "fill": "independent", "stroke": "independent", "strokeDash": "independent"}},
          "layer": [
            {"mark": {"type": "rule", "color": "#bdbdbd", "strokeWidth": 2}, "encoding": {"x": {"datum": 0, "type": "quantitative"}}},
            {"mark": {"type": "rule", "color": "#bdbdbd", "strokeWidth": 2}, "encoding": {"y": {"datum": 0, "type": "quantitative"}}},
            {
              "data": {"name": "d_arrows"},
              "mark": {"type": "rule", "color": "#15158a", "strokeWidth": 6},
              "encoding": {
                "x": {"field": "x", "type": "quantitative", "title": null, "scale": {"domain": [-0.634, 0.829], "nice": false, "zero": false},
                      "axis": {"values": [-0.6, -0.4, -0.2, 0, 0.2, 0.4, 0.6, 0.8], "labelExpr": "abs(datum.value + 0.6) < 0.01 ? '-0.6' : abs(datum.value - 0.8) < 0.01 ? '0.8' : ''"}},
                "y": {"field": "y", "type": "quantitative", "title": null, "scale": {"domain": [-0.823, 1.027], "nice": false, "zero": false},
                      "axis": {"values": [-0.8, -0.6, -0.4, -0.2, 0, 0.2, 0.4, 0.6, 0.8, 1.0], "labelExpr": "abs(datum.value + 0.8) < 0.01 ? '-0.8' : abs(datum.value - 1.0) < 0.01 ? '1.0' : ''",
                               "labelAlign": {"condition": {"test": "datum.value > 0", "value": "right"}, "value": "left"}}},
                "x2": {"datum": 0}, "y2": {"datum": 0}
              }
            },
            {
              "data": {"name": "d_arrows"},
              "transform": [{"calculate": "90 - atan2(datum.y * 732, datum.x * 950) * 180 / PI", "as": "heading"}],
              "mark": {"type": "point", "shape": "M0,0L-0.65,1.4L0.65,1.4Z", "size": 5184, "filled": true, "color": "#15158a", "opacity": 1},
              "encoding": {
                "x": {"field": "x", "type": "quantitative", "title": null}, "y": {"field": "y", "type": "quantitative", "title": null},
                "angle": {"field": "heading", "type": "quantitative", "scale": null}
              }
            },
            {
              "data": {"name": "d_sp"},
              "transform": [{"calculate": "90 - atan2(datum.y * 732, datum.x * 950) * 180 / PI", "as": "heading"}],
              "mark": {"type": "point", "shape": "triangle-up", "size": 480, "filled": true, "fill": "#7c7c9c", "stroke": "#25257a", "strokeWidth": 1.5, "opacity": 1},
              "encoding": {
                "x": {"field": "x", "type": "quantitative", "title": null}, "y": {"field": "y", "type": "quantitative", "title": null},
                "angle": {"field": "heading", "type": "quantitative", "scale": null}
              }
            },
            {
              "data": {"name": "d_sp"},
              "mark": {"type": "text", "font": "Open Sans", "fontStyle": "italic", "fontSize": 46, "color": "#847e78"},
              "encoding": {"x": {"field": "lx", "type": "quantitative", "title": null}, "y": {"field": "ly", "type": "quantitative", "title": null}, "text": {"field": "taxon"}}
            },
            {
              "data": {"name": "d_arrows"},
              "mark": {"type": "text", "font": "Liberation Sans", "fontWeight": "bold", "fontSize": 55, "color": "#15158a"},
              "encoding": {"x": {"field": "lx", "type": "quantitative", "title": null}, "y": {"field": "ly", "type": "quantitative", "title": null}, "text": {"field": "var"}}
            },
            {
              "data": {"values": [{"label": "Increased pressure", "x": 0.986, "y": 0.174}]},
              "mark": {"type": "text", "font": "Open Sans", "fontSize": 82, "angle": 270, "align": "center", "baseline": "alphabetic", "color": "#000000"},
              "encoding": {"x": {"field": "x", "type": "quantitative", "title": null}, "y": {"field": "y", "type": "quantitative", "title": null}, "text": {"field": "label"}}
            },
            {
              "data": {"values": [{"x": 0.877, "y": -0.675, "x2": 0.877, "y2": 0.870}]},
              "mark": {"type": "rule", "color": "#ff0000", "strokeWidth": 13},
              "encoding": {"x": {"field": "x", "type": "quantitative", "title": null}, "y": {"field": "y", "type": "quantitative", "title": null}, "y2": {"field": "y2"}}
            },
            {
              "data": {"values": [{"x": 0.877, "y": -0.675, "x2": 0.877, "y2": 0.870}]},
              "mark": {"type": "point", "shape": "triangle-up", "size": 2025, "filled": true, "color": "#ff0000", "opacity": 1},
              "encoding": {"x": {"field": "x2", "type": "quantitative", "title": null}, "y": {"field": "y2", "type": "quantitative", "title": null}}
            }
          ]
        }
      ],
      "spacing": 261, "bounds": "flush", "align": "none"
    }
  ],
  "spacing": 187,
  "align": "each"
}
